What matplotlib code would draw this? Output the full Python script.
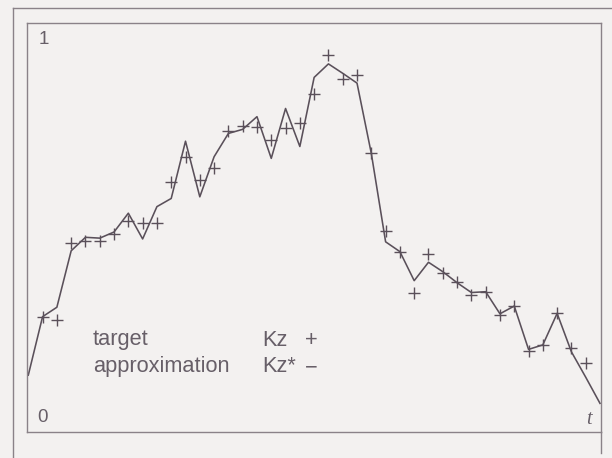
import numpy as np
import matplotlib
matplotlib.use("Agg")
import matplotlib.pyplot as plt
from matplotlib.lines import Line2D

#---------------------------
# DATA (0 = bottom, 1 = top of the frame)
#---------------------------
t_approx = list(range(0, 41))
kz_approx = [0.139, 0.282, 0.305, 0.443, 0.476, 0.474, 0.489, 0.535, 0.472, 0.551,
             0.571, 0.711, 0.575, 0.673, 0.730, 0.740, 0.771, 0.669, 0.791, 0.698,
             0.867, 0.900, 0.877, 0.853, 0.681, 0.465, 0.441, 0.370, 0.415, 0.392,
             0.365, 0.341, 0.343, 0.289, 0.308, 0.202, 0.213, 0.290, 0.196, 0.134,
             0.070]

t_target = list(range(1, 40))
kz_target = [0.280, 0.274, 0.461, 0.468, 0.468, 0.484, 0.516, 0.510, 0.510,
             0.612, 0.673, 0.616, 0.645, 0.737, 0.749, 0.746, 0.714, 0.743, 0.755,
             0.826, 0.922, 0.862, 0.873, 0.681, 0.492, 0.441, 0.341, 0.435, 0.389,
             0.367, 0.335, 0.343, 0.286, 0.308, 0.199, 0.213, 0.290, 0.205, 0.168]

legend_names = ["target", "approximation"]
legend_symbols = ["Kz", "Kz*"]
legend_marks = ["+", "\u2212"]

#---------------------------
# STYLE
#---------------------------
W, H = 612, 458
BG = "#f3f1f0"
INK = "#5a505a"
FRAME = "#8a8288"
TXT = "#675f68"


def fx(px):
    return px / W


def fy(py):
    return 1 - py / H


fig = plt.figure(figsize=(W / 100, H / 100), dpi=100, facecolor=BG)

# axes frame: left 27, right 601, top 23, bottom 432 (pixels)
ax = fig.add_axes([fx(27), fy(432), (601 - 27) / W, (432 - 23) / H])
ax.set_facecolor(BG)
ax.plot(t_approx, kz_approx, color=INK, lw=1.15)
ax.plot(t_target, kz_target, ls="none", marker="+", ms=9, mew=1.0, color=INK)
ax.set_xlim(-0.09, 40.07)
ax.set_ylim(0, 1)
ax.set_xticks([])
ax.set_yticks([])
for s in ax.spines.values():
    s.set_color(FRAME)
    s.set_linewidth(1.0)

# outer frame of the printed figure
fig.add_artist(Line2D([fx(12.5), fx(12.5)], [fy(7.5), 0], color=FRAME, lw=1.0))
fig.add_artist(Line2D([fx(12.5), 1], [fy(7.5), fy(7.5)], color=FRAME, lw=1.0))
# right spine runs on below the frame
fig.add_artist(Line2D([fx(601), fx(601)], [fy(432), fy(453)], color=FRAME, lw=1.0))

# corner labels
fig.text(fx(38.5), fy(40), "1", fontsize=13.5, color=TXT, va="center", ha="left",
         family="Liberation Sans")
fig.text(fx(37.5), fy(418), "0", fontsize=13.5, color=TXT, va="center", ha="left",
         family="Liberation Sans")
fig.text(fx(589), fy(419), "t", fontsize=14.5, color=TXT, va="center", ha="center",
         family="Liberation Serif", style="italic")

# legend written as text
rows_y = [345.5, 372]
for name, sym, mark, y in zip(legend_names, legend_symbols, legend_marks, rows_y):
    fig.text(fx(93), fy(y), name, fontsize=15.7, color=TXT, va="baseline",
             ha="left", family="Liberation Sans")
    fig.text(fx(262), fy(y), sym, fontsize=15.7, color=TXT, va="baseline",
             ha="left", family="Liberation Sans")
    fig.text(fx(311), fy(y - 4.5), mark, fontsize=15.7, color=TXT, va="center",
             ha="center", family="Liberation Sans")

fig.savefig("out.png", dpi=100, facecolor=BG)
